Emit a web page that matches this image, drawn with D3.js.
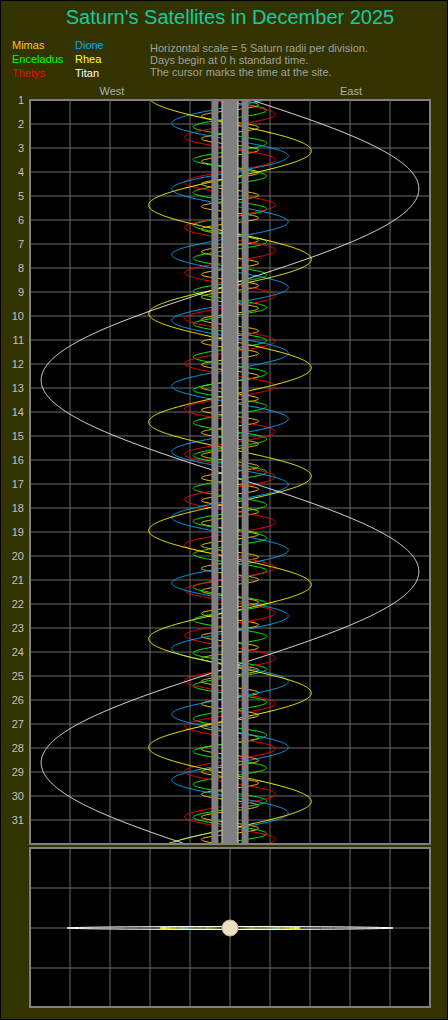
<!DOCTYPE html>
<html><head><meta charset="utf-8">
<script src="https://cdn.jsdelivr.net/npm/d3@7"></script>
<style>body{margin:0;background:#000}svg{display:block}text{font-family:"Liberation Sans",Arial,sans-serif}</style>
</head><body>
<svg id="c" width="448" height="1020"></svg>
<script>
// satellites: name, colour, orbit radius (Saturn radii), period (days), time of east elongation (days from Dec 1 0h)
const moons = ['Mimas', 'Enceladus', 'Thetys', 'Dione', 'Rhea', 'Titan'];
const colors = ['#ffc800', '#00ff00', '#ff0000', '#00a8ff', '#ffff00', '#ffffff'];
const radii = [3.08, 3.95, 4.89, 6.26, 8.74, 20.3];
const periods = [0.942, 1.370, 1.888, 2.737, 4.518, 15.945];
const eastElong = [0.2, 1.8, 0.6, -0.4, 2.12, 3.7];
const days = d3.range(1, 32);
const notes = ['Horizontal scale = 5 Saturn radii per division.', 'Days begin at 0 h standard time.', 'The cursor marks the time at the site.'];

const svg = d3.select('#c');
svg.append('rect').attr('x', 0.5).attr('y', 0.5).attr('width', 447).attr('height', 1019)
  .attr('fill', '#333300').attr('stroke', '#000');

svg.append('text').attr('x', 230).attr('y', 24).attr('text-anchor', 'middle')
  .attr('font-size', 20).attr('fill', '#19c9a0').text("Saturn's Satellites in December 2025");

moons.forEach((m, i) => {
  svg.append('text').attr('x', i < 3 ? 12 : 75).attr('y', 49 + (i % 3) * 14)
    .attr('font-size', 11).attr('fill', colors[i]).text(m);
});
notes.forEach((n, i) => {
  svg.append('text').attr('x', 150).attr('y', 52 + i * 12).attr('font-size', 11)
    .attr('fill', '#a0a0a0').text(n);
});
svg.append('text').attr('x', 112).attr('y', 95).attr('text-anchor', 'middle').attr('font-size', 11).attr('fill', '#b0b0b0').text('West');
svg.append('text').attr('x', 351).attr('y', 95).attr('text-anchor', 'middle').attr('font-size', 11).attr('fill', '#b0b0b0').text('East');

// main chart
const x = d3.scaleLinear().domain([-21.5, 21.5]).range([30, 430]);
const y = d3.scaleLinear().domain([0, 31]).range([100, 844]);
const main = svg.append('g');
main.append('clipPath').attr('id', 'clipMain').append('rect').attr('x', 30).attr('y', 100).attr('width', 400).attr('height', 744);
main.append('rect').attr('x', 30).attr('y', 100).attr('width', 400).attr('height', 744).attr('fill', '#000');
main.selectAll('line.v').data(d3.range(1, 10)).join('line')
  .attr('x1', d => 30 + d * 40).attr('x2', d => 30 + d * 40).attr('y1', 100).attr('y2', 844)
  .attr('stroke', '#6a6a6a');
main.selectAll('line.h').data(days.slice(1)).join('line')
  .attr('x1', 30).attr('x2', 430).attr('y1', d => y(d - 1)).attr('y2', d => y(d - 1))
  .attr('stroke', '#6a6a6a');
main.selectAll('text.day').data(days).join('text')
  .attr('x', 24).attr('y', d => y(d - 1) + 4).attr('text-anchor', 'end')
  .attr('font-size', 11).attr('fill', '#c0c0c0').text(d => d);

const ts = d3.range(0, 31.001, 0.01);
const curves = main.append('g').attr('clip-path', 'url(#clipMain)');
moons.forEach((m, i) => {
  const line = d3.line()
    .x(t => x(radii[i] * Math.cos(2 * Math.PI * (t - eastElong[i]) / periods[i])))
    .y(t => y(t));
  curves.append('path').attr('d', line(ts)).attr('fill', 'none')
    .attr('stroke', colors[i]).attr('stroke-width', 1);
});
// planet and ring bands
const band = main.append('g');
band.append('rect').attr('x', x(-2.0)).attr('y', 100).attr('width', x(-1.25) - x(-2.0)).attr('height', 744).attr('fill', '#808080');
band.append('rect').attr('x', x(1.25)).attr('y', 100).attr('width', x(2.0) - x(1.25)).attr('height', 744).attr('fill', '#808080');
band.append('rect').attr('x', x(-0.86)).attr('y', 100).attr('width', x(0.86) - x(-0.86)).attr('height', 744)
  .attr('fill', '#808080').attr('stroke', '#d0d0d0').attr('stroke-width', 1);
main.append('rect').attr('x', 30).attr('y', 100).attr('width', 400).attr('height', 744)
  .attr('fill', 'none').attr('stroke', '#808080').attr('stroke-width', 2);

// bottom view
const bx = d3.scaleLinear().domain([-24.9, 24.9]).range([30, 430]);
const bot = svg.append('g');
bot.append('rect').attr('x', 30).attr('y', 848).attr('width', 400).attr('height', 159).attr('fill', '#000');
bot.selectAll('line.v').data(d3.range(1, 10)).join('line')
  .attr('x1', d => 30 + d * 40).attr('x2', d => 30 + d * 40).attr('y1', 848).attr('y2', 1007).attr('stroke', '#6a6a6a');
bot.selectAll('line.h').data([888, 928, 968]).join('line')
  .attr('x1', 30).attr('x2', 430).attr('y1', d => d).attr('y2', d => d).attr('stroke', '#6a6a6a');
moons.forEach((m, i) => {
  bot.append('ellipse').attr('cx', 230).attr('cy', 928).attr('rx', bx(radii[i]) - 230).attr('ry', 1.5)
    .attr('fill', 'none').attr('stroke', colors[i]).attr('stroke-width', 1);
});
bot.append('circle').attr('cx', 230).attr('cy', 928).attr('r', 8).attr('fill', '#ede0c0').attr('stroke', '#c8b890');
bot.append('rect').attr('x', 30).attr('y', 848).attr('width', 400).attr('height', 159)
  .attr('fill', 'none').attr('stroke', '#808080').attr('stroke-width', 2);
</script>
</body></html>
